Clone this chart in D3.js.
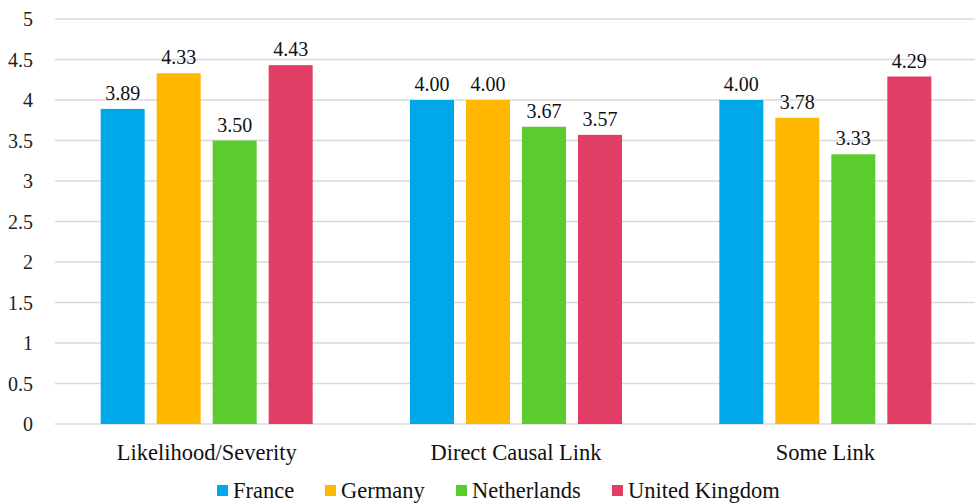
<!DOCTYPE html>
<html>
<head>
<meta charset="utf-8">
<script src="https://cdn.jsdelivr.net/npm/d3@7.9.0/dist/d3.min.js"></script>
</head>
<body style="margin:0">
<script>
const categories = ["Likelihood/Severity", "Direct Causal Link", "Some Link"];
const countries = ["France", "Germany", "Netherlands", "United Kingdom"];
const colors = ["#00A8EA", "#FFB700", "#5CCB2E", "#E23D64"];
const france = [3.89, 4.00, 4.00];
const germany = [4.33, 4.00, 3.78];
const netherlands = [3.50, 3.67, 3.33];
const uk = [4.43, 3.57, 4.29];
const yTicks = [0, 0.5, 1, 1.5, 2, 2.5, 3, 3.5, 4, 4.5, 5];

const series = [france, germany, netherlands, uk];

const width = 975;
const height = 504;
const margin = { top: 19, right: -5, bottom: 80, left: 52 };
const serif = "Liberation Serif";

const svg = d3.select('body')
    .append('svg')
    .attr('width', width)
    .attr('height', height);

const xScale = d3.scaleBand()
    .domain(categories)
    .range([margin.left, width - margin.right])
    .padding(0);

const innerWidth = 212;
const x1 = d3.scaleBand()
    .domain(countries)
    .range([0, innerWidth])
    .paddingInner(12 / 56)
    .paddingOuter(0);

const yScale = d3.scaleLinear()
    .domain([0, 5])
    .range([height - margin.bottom, margin.top]);

// grid lines
yTicks.forEach(t =>
    svg.append('line')
        .attr('x1', margin.left + 3)
        .attr('x2', width)
        .attr('y1', yScale(t))
        .attr('y2', yScale(t))
        .attr('stroke', '#d9d9d9')
        .attr('stroke-width', 1.5)
);

// y axis labels, written by hand so the font is not overridden by the axis group
yTicks.forEach(t =>
    svg.append('text')
        .attr('x', margin.left - 19)
        .attr('y', yScale(t) + 7)
        .attr('text-anchor', 'end')
        .style('font-family', serif)
        .attr('font-size', 20)
        .attr('fill', '#222')
        .text(d3.format('')(t))
);

// bars
categories.forEach((cat, ci) => {
    const x0 = xScale(cat) + (xScale.bandwidth() - innerWidth) / 2;
    countries.forEach((c, si) => {
        const v = series[si][ci];
        svg.append('rect')
            .attr('x', x0 + x1(c))
            .attr('y', yScale(v))
            .attr('width', x1.bandwidth())
            .attr('height', yScale(0) - yScale(v))
            .attr('fill', colors[si]);
        svg.append('text')
            .attr('x', x0 + x1(c) + x1.bandwidth() / 2)
            .attr('y', yScale(v) - 9)
            .attr('text-anchor', 'middle')
            .style('font-family', serif)
            .attr('font-size', 20)
            .attr('fill', '#111')
            .text(v.toFixed(2));
    });
});

// category labels
categories.forEach(cat =>
    svg.append('text')
        .attr('x', xScale(cat) + xScale.bandwidth() / 2)
        .attr('y', yScale(0) + 36)
        .attr('text-anchor', 'middle')
        .style('font-family', serif)
        .attr('font-size', 22.5)
        .attr('fill', '#111')
        .text(cat)
);

// legend
const legendX = [217, 325, 456, 612];
countries.forEach((c, i) => {
    svg.append('rect')
        .attr('x', legendX[i])
        .attr('y', 485)
        .attr('width', 11)
        .attr('height', 11)
        .attr('fill', colors[i]);
    svg.append('text')
        .attr('x', legendX[i] + 16)
        .attr('y', 498)
        .style('font-family', serif)
        .attr('font-size', 22.5)
        .attr('fill', '#111')
        .text(c);
});
</script>
</body>
</html>
